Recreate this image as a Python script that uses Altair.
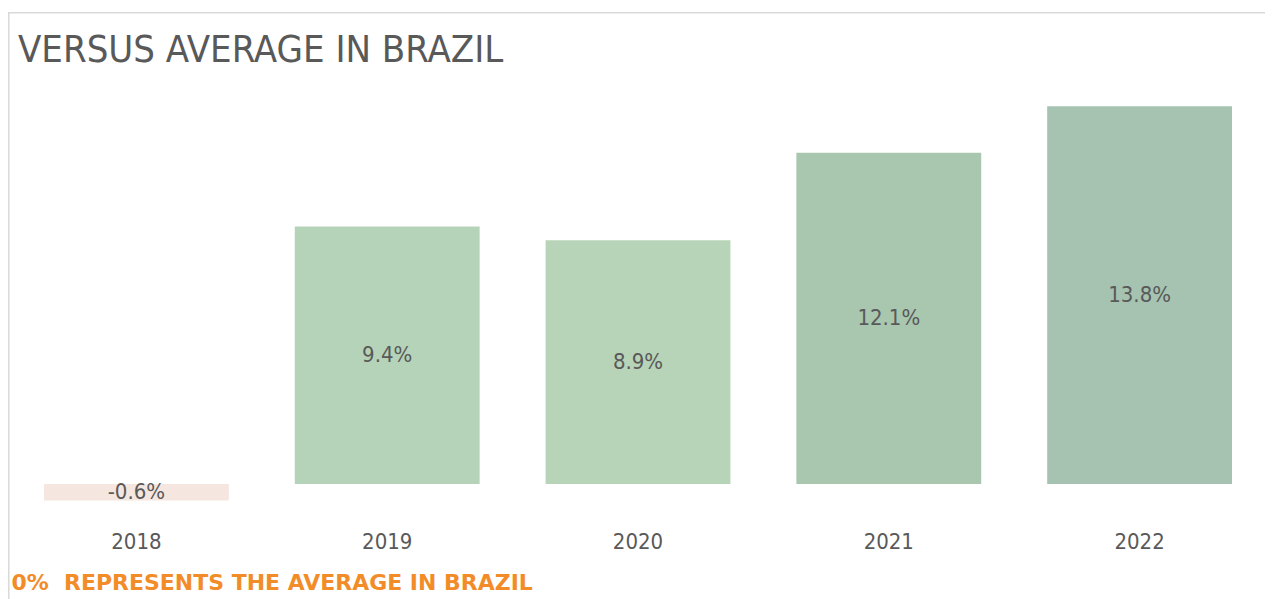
import altair as alt
import pandas as pd

years = ["2018", "2019", "2020", "2021", "2022"]
values = [-0.6, 9.4, 8.9, 12.1, 13.8]
labels = ["-0.6%", "9.4%", "8.9%", "12.1%", "13.8%"]
bar_colors = ["#F5E6DF", "#B5D3B8", "#B7D4B8", "#A9C6AF", "#A5C3B0"]

title_text = "VERSUS AVERAGE IN BRAZIL"
note_text = "0%\u00a0 REPRESENTS THE AVERAGE IN BRAZIL"

FONT = "DejaVu Sans Condensed, DejaVu Sans"
GRAY = "#595959"

df = pd.DataFrame({"year": years, "value": values, "label": labels})

xenc = alt.X(
    "year:N",
    sort=years,
    scale=alt.Scale(paddingInner=0.263, paddingOuter=0.1315),
    axis=alt.Axis(
        title=note_text,
        titleX=0,
        titleY=78.5,
        titleAlign="left",
        titleAnchor="start",
        titleBaseline="alphabetic",
        titleFont="DejaVu Sans",
        titleFontSize=22,
        titleFontWeight="bold",
        titleColor="#F28C28",
        labelAngle=0,
        labelFont=FONT,
        labelFontSize=22,
        labelColor=GRAY,
        labelBaseline="middle",
        labelPadding=30,
        ticks=False,
        tickSize=0,
        domain=False,
        grid=False,
    ),
)
yscale = alt.Scale(domain=[-1, 14], nice=False, zero=False)

base = alt.Chart(df).encode(x=xenc)

bars = base.mark_bar().encode(
    y=alt.Y("value:Q", scale=yscale, axis=None),
    y2=alt.datum(0),
    color=alt.Color("year:N", scale=alt.Scale(domain=years, range=bar_colors), legend=None),
)

text = base.transform_calculate(mid="datum.value / 2").mark_text(
    font=FONT, fontSize=22, color=GRAY, baseline="middle", align="center"
).encode(
    y=alt.Y("mid:Q", scale=yscale, axis=None),
    text="label:N",
)

one = pd.DataFrame({"a": [0]})
border_top = alt.Chart(one).mark_rule(color="#D9D9D9", strokeWidth=1.5).encode(
    x=alt.value(-3), x2=alt.value(1262), y=alt.value(-88)
)
border_left = alt.Chart(one).mark_rule(color="#D9D9D9", strokeWidth=1.5).encode(
    x=alt.value(-2.2), y=alt.value(-88), y2=alt.value(600)
)

chart = (
    alt.layer(border_top, border_left, bars, text)
    .properties(
        width=1255,
        height=411,
        autosize=alt.AutoSizeParams(type="none"),
        padding={"left": 3, "top": 92.5, "right": 0, "bottom": 87},
        title=alt.TitleParams(
            text=title_text,
            anchor="start",
            frame="group",
            font=FONT,
            fontSize=38,
            fontWeight="normal",
            color=GRAY,
            baseline="alphabetic",
            offset=-88,
            dx=7,
        ),
        background="white",
    )
    .configure_view(stroke=None)
)

chart.save("out.html", embed_options={"renderer": "svg", "actions": False})
